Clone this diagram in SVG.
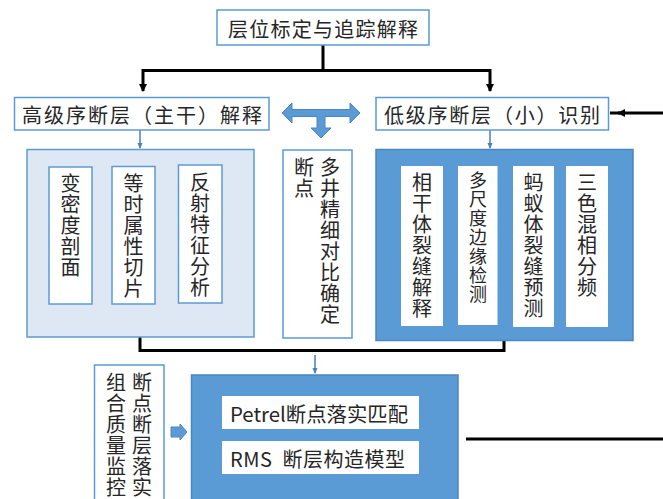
<svg xmlns="http://www.w3.org/2000/svg" width="663" height="499" viewBox="0 0 663 499">
<style>
.t{font-family:"Noto Sans CJK SC","Liberation Sans",sans-serif;fill:#262626;}
.h{font-size:20px;dominant-baseline:central;}
.v{font-size:20px;writing-mode:vertical-rl;letter-spacing:1px;}
.lb{fill:#ffffff;stroke:#5b9bd5;stroke-width:1.5;}
.lp{fill:#dde8f4;stroke:#5b9bd5;stroke-width:1.5;}
.dp{fill:#5b9bd5;stroke:#4a86c0;stroke-width:1.5;}
.wb{fill:#ffffff;stroke:none;}
.bk{fill:none;stroke:#000;stroke-width:3;}
.bl{fill:none;stroke:#4a7fb8;stroke-width:1.5;}
</style>
<defs>
<marker id="ab" markerWidth="8" markerHeight="8" refX="7" refY="4" orient="auto" markerUnits="userSpaceOnUse">
<path d="M0,0 L8,4 L0,8 Z" fill="#000"/>
</marker>
<marker id="abl" markerWidth="6" markerHeight="6" refX="5" refY="3" orient="auto" markerUnits="userSpaceOnUse">
<path d="M0,0.5 L6,3 L0,5.5 Z" fill="#4a7fb8"/>
</marker>
</defs>

<g id="connectors">
<path class="bk" d="M323,45 V70.5 M143,70.5 H490"/>
<path class="bk" d="M143,69 V91" marker-end="url(#ab)"/>
<path class="bk" d="M490,69 V91" marker-end="url(#ab)"/>
<path class="bk" d="M663,113 H618" marker-end="url(#ab)"/>
<line x1="610" y1="113" x2="620" y2="113" stroke="#000" stroke-width="3"/>
<path class="bl" d="M140,130 V148" marker-end="url(#abl)"/>
<path class="bl" d="M490,130 V148" marker-end="url(#abl)"/>
<path class="bk" d="M140,337 V350.5 H504 V341"/>
<path class="bl" d="M315,355 V373" marker-end="url(#abl)"/>
<path class="bk" d="M466,439 H663"/>
<path d="M282,113 L292,103 L292,109.5 L350,109.5 L350,103 L360,113 L350,123 L350,116.5 L325,116.5 L325,128 L331,128 L321,138 L311,128 L317,128 L317,116.5 L292,116.5 L292,123 Z" fill="#5b9bd5" stroke="#4a86c0" stroke-width="1"/>
<path d="M171,427 L180,427 L180,424 L187,432 L180,440 L180,437 L171,437 Z" fill="#5b9bd5" stroke="#4a86c0" stroke-width="1"/>
</g>

<g id="n-top">
<rect class="lb" x="217" y="10" width="212" height="35"/>
<text class="t h" x="323" y="28" text-anchor="middle" font-size="21" textLength="190" lengthAdjust="spacing">层位标定与追踪解释</text>
</g>

<g id="n-high">
<rect class="lb" x="14.5" y="97.5" width="254.5" height="32.5"/>
<text class="t h" x="22" y="114" textLength="240" lengthAdjust="spacing">高级序断层（主干）解释</text>
</g>

<g id="n-low">
<rect class="lb" x="376" y="97.5" width="232.5" height="32.5"/>
<text class="t h" x="384" y="114" textLength="216" lengthAdjust="spacing">低级序断层（小）识别</text>
</g>

<g id="n-left-panel">
<rect class="lp" x="27" y="149.5" width="227" height="187.5"/>
</g>
<g id="n-bmd">
<rect class="lb" x="49" y="167" width="43" height="137"/>
<text class="t v" x="70.5" y="173">变密度剖面</text>
</g>
<g id="n-dsqp">
<rect class="lb" x="112" y="166.5" width="43" height="137.5"/>
<text class="t v" x="133.5" y="173">等时属性切片</text>
</g>
<g id="n-fstz">
<rect class="lb" x="178.5" y="165" width="43.5" height="138"/>
<text class="t v" x="200" y="172">反射特征分析</text>
</g>

<g id="n-djdb">
<rect class="lb" x="283" y="150" width="69" height="188"/>
<text class="t v" x="330" y="157">多井精细对比确定</text>
<text class="t v" x="304" y="157">断点</text>
</g>

<g id="n-right-panel">
<rect class="dp" x="376" y="149.5" width="257" height="191"/>
</g>
<g id="n-xgt">
<rect class="wb" x="401" y="166" width="42" height="160"/>
<text class="t v" x="422" y="172">相干体裂缝解释</text>
</g>
<g id="n-dcd">
<rect class="wb" x="458" y="166" width="39.5" height="159"/>
<text class="t v" x="478" y="171" style="font-size:18px;letter-spacing:1px">多尺度边缘检测</text>
</g>
<g id="n-myt">
<rect class="wb" x="513" y="166" width="41" height="161"/>
<text class="t v" x="533.5" y="172">蚂蚁体裂缝预测</text>
</g>
<g id="n-sshx">
<rect class="wb" x="566" y="166" width="42" height="161"/>
<text class="t v" x="587" y="172">三色混相分频</text>
</g>

<g id="n-qc">
<rect class="lb" x="94.5" y="365" width="69.5" height="140"/>
<text class="t v" x="142" y="372">断点断层落实</text>
<text class="t v" x="116" y="372">组合质量监控</text>
</g>

<g id="n-bottom-panel">
<rect class="dp" x="191.5" y="375" width="266.5" height="130"/>
</g>
<g id="n-petrel">
<rect class="wb" x="222" y="396" width="197" height="33"/>
<text class="t h" x="230" y="413" textLength="178" lengthAdjust="spacingAndGlyphs">Petrel断点落实匹配</text>
</g>
<g id="n-rms">
<rect class="wb" x="222" y="441" width="197" height="33"/>
<text class="t h" x="230" y="458" xml:space="preserve" textLength="175" lengthAdjust="spacing">RMS  断层构造模型</text>
</g>
</svg>
